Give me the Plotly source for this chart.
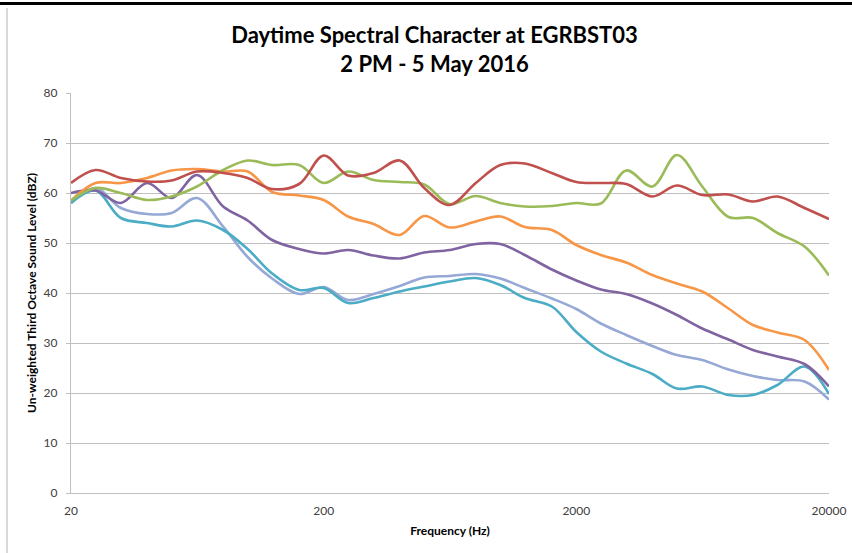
import plotly.graph_objects as go

freqs = [20, 25, 31.5, 40, 50, 63, 80, 100, 125, 160, 200, 250, 315, 400, 500, 630,
         800, 1000, 1250, 1600, 2000, 2500, 3150, 4000, 5000, 6300, 8000, 10000,
         12500, 16000, 20000]

red = [62, 64.6, 63, 62.3, 62.5, 64.3, 64, 63, 60.8, 61.8, 67.5, 63.5, 64, 66.5, 61,
       57.6, 62, 65.6, 65.9, 64, 62.2, 62, 61.8, 59.3, 61.5, 59.6, 59.7, 58.3, 59.3, 57, 54.8]
green = [58.5, 61, 60, 58.6, 59.3, 61.3, 64.6, 66.5, 65.6, 65.6, 62, 64.3, 62.6, 62.2, 61.7,
         57.8, 59.4, 58, 57.3, 57.4, 58, 57.9, 64.5, 61.3, 67.6, 61.3, 55.2, 55, 52, 49.3, 43.5]
orange = [58.5, 62, 62, 63, 64.5, 64.8, 64.3, 64.3, 60.2, 59.5, 58.6, 55.3, 53.8, 51.6, 55.4,
          53.1, 54.3, 55.3, 53.2, 52.6, 49.6, 47.6, 46.1, 43.6, 41.9, 40.3, 36.9, 33.6, 32.1, 30.6, 24.6]
purple = [60, 60.5, 58, 62, 59, 63.6, 57.3, 54.5, 50.6, 48.8, 47.9, 48.6, 47.5, 46.9, 48.1,
          48.6, 49.8, 49.8, 47.6, 44.7, 42.5, 40.7, 39.8, 37.9, 35.6, 32.9, 30.7, 28.6, 27.3, 25.8, 21.3]
lavender = [58, 61, 57, 55.8, 56, 59, 53.3, 47.2, 42.9, 39.8, 41.2, 38.6, 39.8, 41.4, 43.1,
            43.4, 43.8, 42.9, 41, 38.9, 36.8, 33.9, 31.6, 29.4, 27.6, 26.6, 24.7, 23.4, 22.6, 22.3, 18.7]
cyan = [58, 60.5, 55, 54, 53.3, 54.5, 52.6, 48.8, 43.9, 40.6, 41, 38, 39, 40.3, 41.3,
        42.3, 43, 41.6, 39, 37.3, 32.2, 28.3, 25.9, 23.8, 20.9, 21.3, 19.6, 19.6, 21.6, 25.3, 19.8]

series = [
    ("Series A", lavender, "#95A8D6"),
    ("Series B", cyan, "#4BACC6"),
    ("Series C", purple, "#8064A2"),
    ("Series D", orange, "#F79646"),
    ("Series E", green, "#9BBB59"),
    ("Series F", red, "#C0504D"),
]

y_ticks = [0, 10, 20, 30, 40, 50, 60, 70, 80]
x_ticks = [20, 200, 2000, 20000]

fig = go.Figure()
for name, vals, col in series:
    fig.add_trace(go.Scatter(x=freqs, y=vals, mode="lines", name=name,
                             line=dict(color=col, width=2.6, shape="spline", smoothing=1.0)))

font_main = "Lato, 'Open Sans', sans-serif"
fig.update_layout(
    width=852, height=553,
    margin=dict(l=71, r=23, t=93, b=60),
    paper_bgcolor="white", plot_bgcolor="white",
    showlegend=False,
    title=dict(text="<b>Daytime Spectral Character at EGRBST03<br>2 PM - 5 May 2016</b>",
               x=0.51, xanchor="center", y=0.922, yanchor="top",
               font=dict(family=font_main, size=22, color="#000000")),
    xaxis=dict(type="log", range=[1.30103, 4.30103], tickvals=x_ticks,
               ticktext=[str(v) for v in x_ticks], showgrid=False, automargin=False,
               showline=True, linecolor="#BFBFBF", linewidth=1.3,
               tickfont=dict(family=font_main, size=12, color="#404040"),
               ticks="", ticklen=0, ticklabelstandoff=6,
               title=dict(text="<b>Frequency (Hz)</b>", standoff=10,
                          font=dict(family=font_main, size=12, color="#000000"))),
    yaxis=dict(range=[0, 80], tickvals=y_ticks, showgrid=True, gridcolor="#BFBFBF",
               gridwidth=1.2, showline=True, linecolor="#BFBFBF", linewidth=1.3,
               zeroline=False, ticks="outside", tickcolor="#BFBFBF", ticklen=4,
               ticklabelstandoff=6, automargin=False,
               tickfont=dict(family=font_main, size=12, color="#404040"),
               title=dict(text="<b>Un-weighted Third Octave Sound Level (dBZ)</b>", standoff=4,
                          font=dict(family=font_main, size=12, color="#000000"))),
)

fig.add_shape(type="rect", xref="paper", yref="paper", x0=-71/758, x1=(852-71)/758,
              y0=1+88/400, y1=1+91/400, line=dict(width=0), fillcolor="black")
fig.add_shape(type="line", xref="paper", yref="paper", x0=-64/758, x1=-64/758,
              y0=-60/400, y1=1+85/400, line=dict(color="#BFBFBF", width=1.2))

fig.write_html("out.html", config={"displayModeBar": False},
               post_script="document.body.style.margin='0px';")
